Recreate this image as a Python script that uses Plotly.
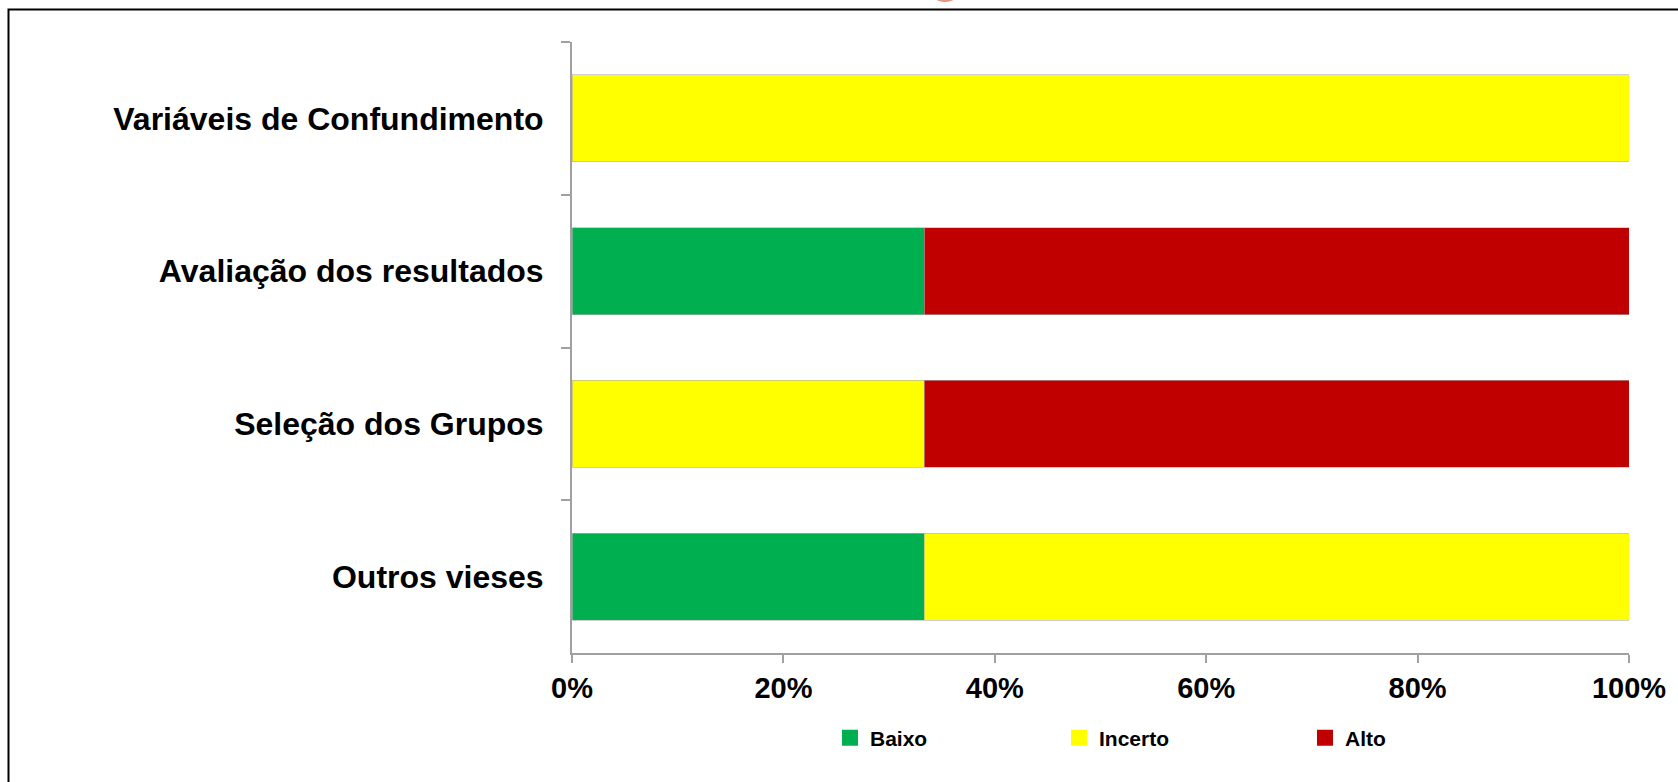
import plotly.graph_objects as go

# Data (top-to-bottom order as displayed)
categories = ["Variáveis de Confundimento", "Avaliação dos resultados",
              "Seleção dos Grupos", "Outros vieses"]
baixo = [0, 33.33, 0, 33.33]
incerto = [100, 0, 33.33, 66.67]
alto = [0, 66.67, 66.67, 0]
series_names = ["Baixo", "Incerto", "Alto"]
series_values = [baixo, incerto, alto]
colors = ["#00B050", "#FFFF00", "#C00000"]
x_ticks = [0, 20, 40, 60, 80, 100]

W, H = 1678, 782
L, R, T, B = 572, 49, 42, 129
pw, ph = W - L - R, H - T - B

def px_to_paper_x(px):
    return (px - L) / pw

def px_to_paper_y(py):
    return (H - B - py) / ph

font_fam = "Liberation Sans, Arial, sans-serif"
legend_ids = ["legend", "legend2", "legend3"]
legend_left_px = [830, 1059, 1305]

fig = go.Figure()
for name, vals, col, lid in zip(series_names, series_values, colors, legend_ids):
    fig.add_trace(go.Bar(
        y=categories, x=vals, name=name, orientation="h",
        marker=dict(color=col, line=dict(color="#b0b0b0", width=0.6)),
        width=0.57, showlegend=False, legendgroup=name,
    ))
    # legend proxy
    fig.add_trace(go.Scatter(
        y=[None], x=[None], name=name, mode="markers",
        marker=dict(symbol="square", size=16, color=col),
        legendgroup=name, showlegend=True, legend=lid,
    ))

legend_common = dict(
    orientation="h", y=px_to_paper_y(738),
    xanchor="left", yanchor="middle",
    font=dict(size=21, family=font_fam, weight="bold", color="black"),
    bgcolor="rgba(0,0,0,0)",
)

fig.update_layout(
    width=W, height=H,
    margin=dict(l=L, r=R, t=T, b=B, autoexpand=False),
    barmode="stack",
    plot_bgcolor="white", paper_bgcolor="white",
    font=dict(family=font_fam, color="black"),
    legend=dict(x=px_to_paper_x(legend_left_px[0]), **legend_common),
    legend2=dict(x=px_to_paper_x(legend_left_px[1]), **legend_common),
    legend3=dict(x=px_to_paper_x(legend_left_px[2]), **legend_common),
    xaxis=dict(
        range=[0, 100], tickvals=x_ticks, ticktext=[f"{v}%" for v in x_ticks],
        showgrid=False, zeroline=False,
        showline=True, linecolor="#a0a0a0", linewidth=2,
        ticks="outside", ticklen=8, tickwidth=2, tickcolor="#a0a0a0",
        tickfont=dict(size=29, family=font_fam, weight="bold", color="black"),
        ticklabelstandoff=0,
    ),
    yaxis=dict(
        categoryorder="array", categoryarray=categories,
        range=[3.5, -0.5],
        showgrid=False, zeroline=False,
        showline=True, linecolor="#a0a0a0", linewidth=2,
        ticks="outside", ticklen=9, tickwidth=2, tickcolor="#a0a0a0",
        tickson="boundaries",
        tickfont=dict(size=32, family=font_fam, weight="bold", color="black"),
        ticklabelstandoff=20,
    ),
    shapes=[
        dict(type="rect", xref="paper", yref="paper",
             x0=px_to_paper_x(8.5), x1=px_to_paper_x(1750),
             y0=px_to_paper_y(850), y1=px_to_paper_y(9.5),
             line=dict(color="black", width=2), fillcolor="rgba(0,0,0,0)",
             layer="above"),
        dict(type="circle", xref="paper", yref="paper",
             x0=px_to_paper_x(928), x1=px_to_paper_x(962),
             y0=px_to_paper_y(2), y1=px_to_paper_y(-30),
             line=dict(width=0), fillcolor="#d9684a", opacity=0.7),
    ],
)

fig.write_html("out.html")
